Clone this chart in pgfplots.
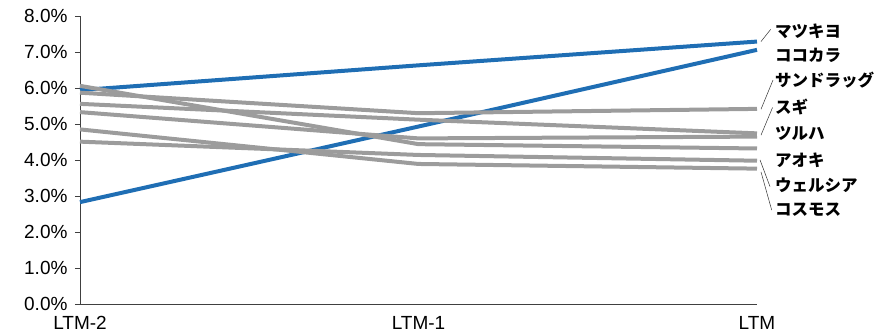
\documentclass[border=0pt]{standalone}
\usepackage{pgfplots}
\pgfplotsset{compat=1.18}
\usepackage{fontspec}
\setmainfont{Liberation Sans}
\newfontfamily\jp{Noto Sans CJK JP}
\definecolor{cblue}{RGB}{31,110,180}
\definecolor{cgrey}{RGB}{156,156,156}
\begin{document}
\begin{tikzpicture}
\begin{axis}[
 scale only axis, width=677pt, height=288pt,
 xmin=0, xmax=2, ymin=0, ymax=8,
 axis x line=bottom, axis y line=left,
 axis line style={-, draw=black!75, line width=0.8pt},
 xtick={0,1,2}, xticklabels={LTM-2,LTM-1,LTM},
 ytick={0,1,...,8},
 yticklabel={\pgfmathprintnumber[fixed,fixed zerofill,precision=1]{\tick}\%},
 tick align=outside, major tick length=5pt,
 x tick style={draw=none}, y tick style={draw=black!75, line width=0.8pt},
 ticklabel style={font=\fontsize{19}{22}\selectfont},
 yticklabel style={xshift=-4pt},
 xticklabel style={yshift=-4pt},
 /pgf/number format/assume math mode=true,
 clip=false,
 every axis plot/.append style={line width=4pt, no markers},
]
\coordinate (O) at (rel axis cs:0,0);
% blue series
\addplot[cblue] coordinates {(0,5.94) (1,6.63) (2,7.29)}; % マツキヨ
\addplot[cblue] coordinates {(0,2.83) (1,4.93) (2,7.06)}; % ココカラ
% grey series
\addplot[cgrey] coordinates {(0,5.87) (1,5.30) (2,5.42)}; % サンドラッグ
\addplot[cgrey] coordinates {(0,5.56) (1,5.12) (2,4.74)}; % スギ
\addplot[cgrey] coordinates {(0,5.33) (1,4.60) (2,4.65)}; % ツルハ
\addplot[cgrey] coordinates {(0,6.06) (1,4.44) (2,4.32)}; % アオキ
\addplot[cgrey] coordinates {(0,4.51) (1,4.14) (2,3.98)}; % ウェルシア
\addplot[cgrey] coordinates {(0,4.85) (1,3.89) (2,3.76)}; % コスモス
% leaders
\draw[black!80, line width=0.5pt] (axis cs:2.0118,7.29) -- (axis cs:2.0405,7.63);
\draw[black!80, line width=0.5pt] (axis cs:2.0118,5.41) -- (axis cs:2.0473,6.22);
\draw[black!80, line width=0.5pt] (axis cs:2.0118,4.69) -- (axis cs:2.0460,5.46);
\draw[black!80, line width=0.5pt] (axis cs:2.0090,4.00) -- (axis cs:2.0385,3.26);
\draw[black!80, line width=0.5pt] (axis cs:2.0118,3.67) -- (axis cs:2.0434,2.61);
% labels
\tikzset{lab/.style={anchor=west, xshift=18pt, inner sep=0pt, font=\jp\bfseries\fontsize{16.5}{18}\selectfont}}
\node[lab] at (axis cs:2,7.58) {マツキヨ};
\node[lab] at (axis cs:2,6.92) {ココカラ};
\node[lab] at (axis cs:2,6.22) {サンドラッグ};
\node[lab] at (axis cs:2,5.48) {スギ};
\node[lab] at (axis cs:2,4.75) {ツルハ};
\node[lab] at (axis cs:2,4.00) {アオキ};
\node[lab] at (axis cs:2,3.31) {ウェルシア};
\node[lab] at (axis cs:2,2.61) {コスモス};
\end{axis}
\pgfresetboundingbox
\path ([shift={(-80pt,-31pt)}]O) rectangle ([shift={(799pt,304pt)}]O);
\end{tikzpicture}
\end{document}
